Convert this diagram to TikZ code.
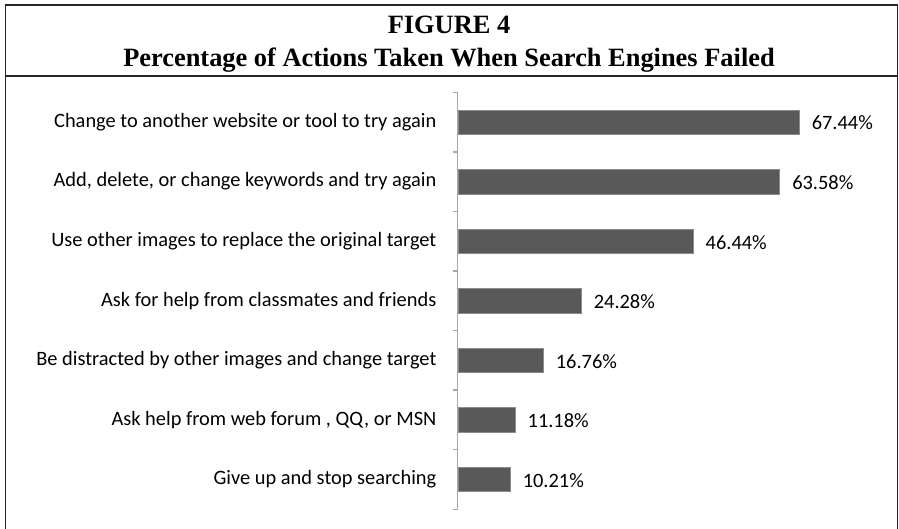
\documentclass[tikz,border=0pt]{standalone}
\usepackage{fontspec}
\setmainfont{Carlito}
\newfontfamily\titlefont{Liberation Serif}
\definecolor{barfill}{HTML}{595959}
\definecolor{baredge}{HTML}{8C8C8C}
\definecolor{axisgray}{HTML}{A6A6A6}
\definecolor{framegray}{HTML}{262626}
\begin{document}
\begin{tikzpicture}[x=1pt,y=-1pt,
  frameline/.style={draw=framegray,line width=1.6pt},
  bar/.style={fill=barfill,draw=baredge,line width=0.6pt,minimum height=24.5pt,inner sep=0pt,anchor=west},
  catlabel/.style={anchor=east,inner sep=0pt,font=\fontsize{20.4}{24}\selectfont},
  vallabel/.style={anchor=west,inner sep=0pt,font=\fontsize{20.4}{24}\selectfont},
  titletext/.style={inner sep=0pt,font=\titlefont\bfseries\fontsize{26.4}{30}\selectfont},
  axisline/.style={draw=axisgray,line width=1.4pt}]
\useasboundingbox (0,0) rectangle (899,529);
% frame
\coordinate (fbl) at (5.5,531);
\coordinate (ftl) at (5.5,4.8);
\coordinate (ftr) at (897.5,4.8);
\coordinate (fbr) at (897.5,531);
\coordinate (sl) at (5.5,76);
\coordinate (sr) at (897.5,76);
\draw[frameline] (fbl) -- (ftl) -- (ftr) -- (fbr);
\draw[frameline] (sl) -- (sr);
% title
\node[titletext,anchor=base] (t1) at (449,33.3) {FIGURE 4};
\node[titletext,anchor=base] (t2) at (449,66.7) {Percentage of Actions Taken When Search Engines Failed};
% axis
\coordinate (atop) at (452.7,92.3);
\coordinate (atopc) at (457.7,92.3);
\coordinate (abot) at (457.7,509.3);
\coordinate (abotl) at (452.7,509.3);
\draw[axisline] (atop) -- (atopc) -- (abot) -- (abotl);
\foreach \i in {1,...,6}{
  \draw[axisline] (452.7,{92.3+59.57*\i}) -- (457.7,{92.3+59.57*\i});
}
% bars
\foreach \v/\lab/\pct [count=\i from 0] in {
  67.44/{Change to another website or tool to try again}/67.44\%,
  63.58/{Add, delete, or change keywords and try again}/63.58\%,
  46.44/{Use other images to replace the original target}/46.44\%,
  24.28/{Ask for help from classmates and friends}/24.28\%,
  16.76/{Be distracted by other images and change target}/16.76\%,
  11.18/{Ask help from web forum , QQ, or MSN}/11.18\%,
  10.21/{Give up and stop searching}/10.21\%}{
  \pgfmathsetmacro\yc{92.3+59.57*(\i+0.5)}
  \node[bar,minimum width={5.05*\v pt}] (bar\i) at (458.4,\yc) {};
  \node[catlabel] (cat\i) at (436.5,\yc) {\lab};
  \node[vallabel] (val\i) at ([xshift=12pt,yshift=-1pt]bar\i.east) {\pct};
}
\end{tikzpicture}
\end{document}
